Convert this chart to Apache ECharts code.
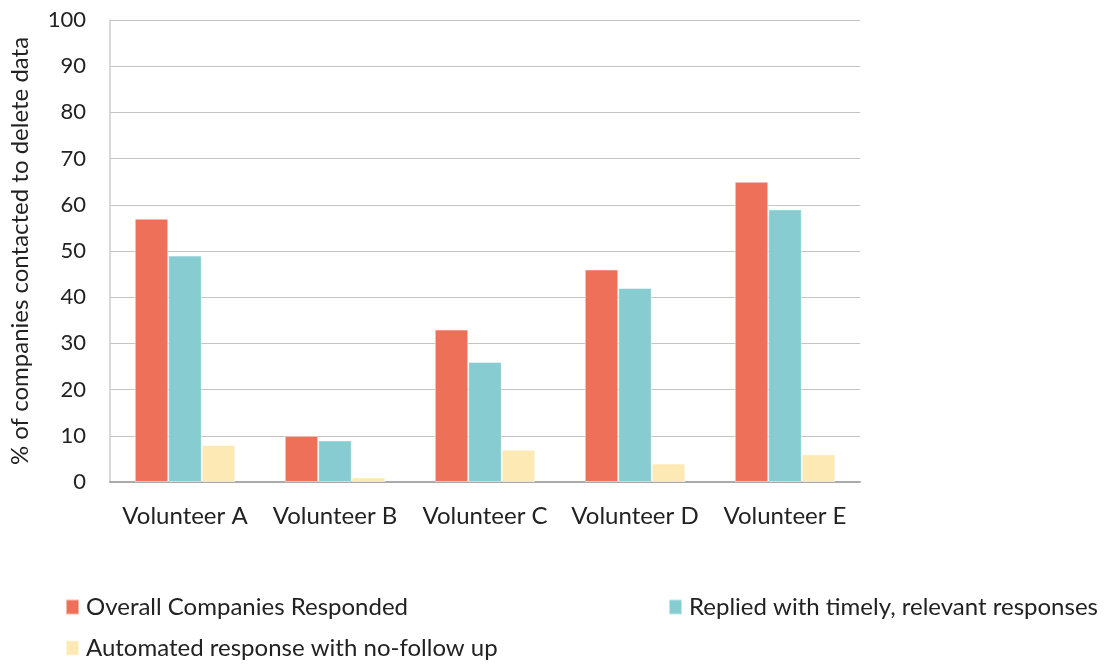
<!DOCTYPE html>
<html>
<head>
<meta charset="utf-8">
<script src="https://cdn.jsdelivr.net/npm/echarts@6/dist/echarts.min.js"></script>
<style>
  html, body { margin: 0; padding: 0; background: #fff; }
  #chart { width: 1110px; height: 666px; }
</style>
</head>
<body>
<div id="chart"></div>
<script>
var volunteers = ['Volunteer A', 'Volunteer B', 'Volunteer C', 'Volunteer D', 'Volunteer E'];
var overallResponded = [57, 10, 33, 46, 65];
var timelyReplies = [49, 9, 26, 42, 59];
var automatedOnly = [8, 1, 7, 4, 6];

var seriesNames = [
    'Overall Companies Responded',
    'Replied with timely, relevant responses',
    'Automated response with no-follow up'
];
var colors = ['#EF7058', '#86CCD0', '#FDE9B3'];

var chart = echarts.init(document.getElementById('chart'));

var legendBase = {
    padding: 0,
    itemWidth: 13,
    itemHeight: 15,
    itemGap: 6,
    icon: 'rect',
    textStyle: { fontFamily: 'Lato', fontSize: 24, color: '#222', padding: [0, 0, 0, 2] }
};

var option = {
    animation: false,
    textStyle: { fontFamily: 'Lato' },
    grid: { left: 108, right: 250, top: 20, bottom: 184 },
    legend: [
        Object.assign({ left: 65, top: 595, data: [seriesNames[0]] }, legendBase),
        Object.assign({ left: 668, top: 595, data: [seriesNames[1]] }, legendBase),
        Object.assign({ left: 65, top: 636, data: [seriesNames[2]] }, legendBase)
    ],
    xAxis: {
        type: 'category',
        data: volunteers,
        axisLine: { lineStyle: { color: '#aaa', width: 2 } },
        axisTick: { show: false },
        axisLabel: { fontSize: 24, color: '#222', margin: 22, interval: 0, hideOverlap: false }
    },
    yAxis: {
        type: 'value',
        min: 0,
        max: 100,
        interval: 10,
        name: '% of companies contacted to delete data',
        nameLocation: 'middle',
        nameGap: 78,
        nameTextStyle: { fontSize: 24, color: '#222' },
        axisLine: { show: true, lineStyle: { color: '#ccc', width: 1.5 } },
        axisTick: { show: false },
        axisLabel: { fontSize: 22, color: '#222', margin: 24 },
        splitLine: { lineStyle: { color: '#c4c4c4', width: 1 } }
    },
    series: seriesNames.map(function (name, i) {
        return {
            name: name,
            type: 'bar',
            data: [overallResponded, timelyReplies, automatedOnly][i],
            barGap: '0%',
            barCategoryGap: '33%',
            itemStyle: { color: colors[i], borderColor: 'rgba(255,255,255,0.5)', borderWidth: 1 }
        };
    })
};

chart.setOption(option);
window.addEventListener('resize', chart.resize);
</script>
</body>
</html>
